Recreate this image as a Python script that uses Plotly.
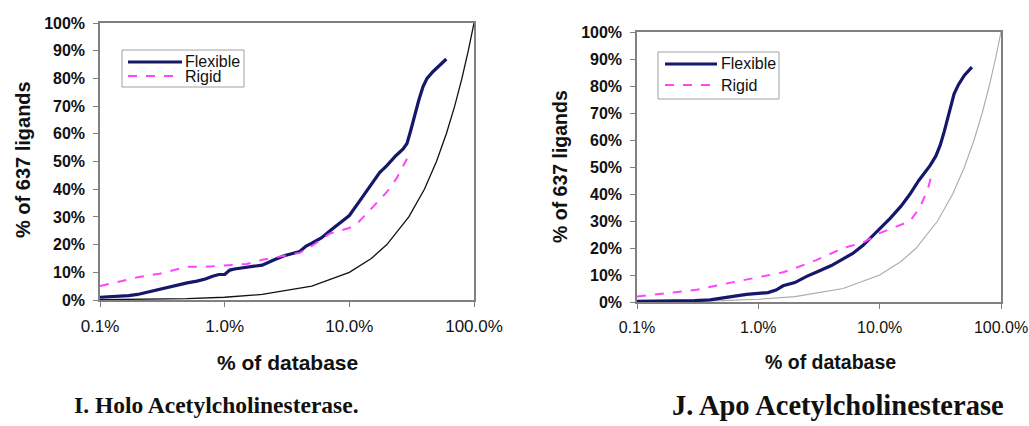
import plotly.graph_objects as go

# ---- Holo Acetylcholinesterase (panel I) ----
holo_flex_x = [0.1, 0.13, 0.17, 0.2, 0.25, 0.3, 0.4, 0.5, 0.6, 0.7, 0.8, 0.9, 1.0, 1.1, 1.2, 1.5, 2.0, 2.5, 3.0,
               4.0, 4.5, 5.0, 6.0, 7.0, 8.0, 10, 12, 15, 17.5, 20, 23.5, 27, 29, 31, 33, 36, 39, 42, 47, 52, 57, 60]
holo_flex_y = [1.0, 1.2, 1.6, 2.0, 3.0, 4.0, 5.2, 6.2, 6.8, 7.6, 8.6, 9.2, 9.2, 10.8, 11.2, 11.8, 12.6, 14.5, 16.0,
               17.5, 19.5, 20.5, 22.5, 25.0, 27.0, 30.5, 35.5, 41.5, 46.0, 48.5, 52.0, 54.5, 56.5, 61.0, 66.0, 72.0,
               77.0, 80.0, 82.5, 84.5, 86.0, 87.0]
holo_rigid_x = [0.1, 0.15, 0.2, 0.3, 0.4, 0.5, 0.7, 1.0, 1.5, 2.0, 3.0, 4.0, 5.0, 7.0, 10, 11.5, 13, 15, 17.5, 20, 24, 29]
holo_rigid_y = [5.0, 7.0, 8.2, 9.5, 11.0, 12.0, 12.0, 12.5, 13.0, 14.5, 16.0, 17.0, 19.5, 24.0, 26.0, 27.5, 30.0,
                33.0, 36.0, 39.0, 44.0, 51.0]

# ---- Apo Acetylcholinesterase (panel J) ----
apo_flex_x = [0.1, 0.2, 0.3, 0.4, 0.5, 0.6, 0.8, 1.0, 1.2, 1.4, 1.6, 2.0, 2.5, 3.0, 4.0, 5.0, 6.0, 7.3, 8.5, 10,
              12.2, 15, 17.8, 21, 26, 29, 31.5, 34, 38, 41, 44.6, 50, 57.6]
apo_flex_y = [0.2, 0.3, 0.5, 0.8, 1.3, 2.0, 2.8, 3.3, 3.5, 4.4, 6.0, 7.2, 9.5, 11.0, 13.5, 16.0, 18.0, 21.0, 24.0,
              27.0, 31.0, 35.5, 40.0, 45.0, 50.5, 54.0, 58.0, 63.0, 72.0, 77.0, 80.5, 84.0, 87.0]
apo_rigid_x = [0.1, 0.2, 0.31, 0.5, 0.7, 1.0, 1.3, 1.6, 2.0, 3.0, 4.0, 5.0, 7.3, 10, 13, 17.8, 21.5, 25, 27.5]
apo_rigid_y = [2.0, 3.5, 4.5, 6.5, 7.8, 9.0, 10.0, 11.0, 12.5, 15.5, 18.0, 20.0, 22.0, 25.5, 27.5, 30.0, 35.0,
               42.0, 49.0]

# random-selection reference (y = x)
ref_x = [0.1, 0.2, 0.5, 1, 2, 5, 10, 15, 20, 30, 40, 50, 60, 70, 80, 90, 100]
ref_y = [0.1, 0.2, 0.5, 1, 2, 5, 10, 15, 20, 30, 40, 50, 60, 70, 80, 90, 100]

series_names = ["Flexible", "Rigid"]
x_tickvals = [0.1, 1, 10, 100]
x_ticktext = ["0.1%", "1.0%", "10.0%", "100.0%"]
y_tickvals = [0, 10, 20, 30, 40, 50, 60, 70, 80, 90, 100]
y_ticktext = ["0%", "10%", "20%", "30%", "40%", "50%", "60%", "70%", "80%", "90%", "100%"]

FLEX = "#14176a"
RIGID = "#ff44ff"
FONT = "Liberation Sans, Arial, sans-serif"
SERIF = "Liberation Serif, Times New Roman, serif"
INK = "#111111"

W, H = 1029, 426


def px_x(p):
    return p / W


def px_y(p):
    return 1 - p / H


fig = go.Figure()

fig.add_trace(go.Scatter(x=ref_x, y=ref_y, mode="lines", line=dict(color="#111111", width=1.3),
                         showlegend=False, xaxis="x", yaxis="y", hoverinfo="skip"))
fig.add_trace(go.Scatter(x=holo_flex_x, y=holo_flex_y, mode="lines", name=series_names[0],
                         line=dict(color=FLEX, width=3.2), xaxis="x", yaxis="y", showlegend=False))
fig.add_trace(go.Scatter(x=holo_rigid_x, y=holo_rigid_y, mode="lines", name=series_names[1],
                         line=dict(color=RIGID, width=2, dash="dash"), xaxis="x", yaxis="y", showlegend=False))

fig.add_trace(go.Scatter(x=ref_x, y=ref_y, mode="lines", line=dict(color="#aaaaaa", width=1.1),
                         showlegend=False, xaxis="x2", yaxis="y2", hoverinfo="skip"))
fig.add_trace(go.Scatter(x=apo_flex_x, y=apo_flex_y, mode="lines", name=series_names[0],
                         line=dict(color=FLEX, width=3.2), xaxis="x2", yaxis="y2", showlegend=False))
fig.add_trace(go.Scatter(x=apo_rigid_x, y=apo_rigid_y, mode="lines", name=series_names[1],
                         line=dict(color=RIGID, width=2, dash="dash"), xaxis="x2", yaxis="y2", showlegend=False))


def xaxis_style(size, domain, anchor):
    return dict(type="log", range=[-1, 2], tickvals=x_tickvals, ticktext=x_ticktext, domain=domain,
                anchor=anchor, automargin=False,
                showgrid=False, zeroline=False, showline=True, linecolor="#808080", linewidth=1.5,
                mirror=True, ticks="outside", ticklen=5, tickcolor="#808080", ticklabelstandoff=5,
                tickfont=dict(family=FONT, size=size, color=INK))


def yaxis_style(domain, anchor):
    return dict(range=[0, 100], tickvals=y_tickvals, ticktext=y_ticktext, domain=domain, anchor=anchor,
                automargin=False,
                showgrid=False, zeroline=False, showline=True, linecolor="#808080", linewidth=1.5,
                mirror=True, ticks="outside", ticklen=5, tickcolor="#808080", ticklabelstandoff=5,
                tickfont=dict(family=FONT, size=16, color=INK, weight="bold"))


fig.update_layout(
    width=W, height=H,
    margin=dict(l=0, r=0, t=0, b=0),
    paper_bgcolor="white", plot_bgcolor="white",
    showlegend=False,
    xaxis=xaxis_style(17, [px_x(100), px_x(474)], "y"),
    yaxis=yaxis_style([px_y(300), px_y(23)], "x"),
    xaxis2=xaxis_style(16, [px_x(637), px_x(1001)], "y2"),
    yaxis2=yaxis_style([px_y(302), px_y(32)], "x2"),
)

shapes = []
ann = []

# Legend boxes (drawn manually to match the compact Excel-style legend)
legends = [
    dict(box=(122, 50, 244, 87), line_x=(128, 182), y1=62, y2=76, tx=183),
    dict(box=(658, 52, 779, 99), line_x=(665, 717), y1=64, y2=85, tx=719),
]
for lg in legends:
    x0, y0, x1, y1 = lg["box"]
    shapes.append(dict(type="rect", xref="paper", yref="paper", x0=px_x(x0), x1=px_x(x1), y0=px_y(y1), y1=px_y(y0),
                       line=dict(color="#a0a0a0", width=1), fillcolor="white", layer="above"))
    lx0, lx1 = lg["line_x"]
    shapes.append(dict(type="line", xref="paper", yref="paper", x0=px_x(lx0), x1=px_x(lx1),
                       y0=px_y(lg["y1"]), y1=px_y(lg["y1"]), line=dict(color=FLEX, width=3.2), layer="above"))
    shapes.append(dict(type="line", xref="paper", yref="paper", x0=px_x(lx0), x1=px_x(lx1),
                       y0=px_y(lg["y2"]), y1=px_y(lg["y2"]), line=dict(color=RIGID, width=2, dash="dash"),
                       layer="above"))
    ann.append(dict(text=series_names[0], x=px_x(lg["tx"]), y=px_y(lg["y1"]), xanchor="left",
                    font=dict(family=FONT, size=16, color=INK)))
    ann.append(dict(text=series_names[1], x=px_x(lg["tx"]), y=px_y(lg["y2"]), xanchor="left",
                    font=dict(family=FONT, size=16, color=INK)))

ann += [
    dict(text="<b>% of 637 ligands</b>", x=px_x(23), y=px_y(160), textangle=-90,
         font=dict(family=FONT, size=20, color=INK)),
    dict(text="<b>% of 637 ligands</b>", x=px_x(560), y=px_y(167), textangle=-90,
         font=dict(family=FONT, size=19.5, color=INK)),
    dict(text="<b>% of database</b>", x=px_x(287), y=px_y(362),
         font=dict(family=FONT, size=21, color=INK)),
    dict(text="<b>% of database</b>", x=px_x(830), y=px_y(362),
         font=dict(family=FONT, size=19.5, color=INK)),
    dict(text="<b>I. Holo Acetylcholinesterase.</b>", x=px_x(216), y=px_y(405),
         font=dict(family=SERIF, size=23.5, color=INK)),
    dict(text="<b>J. Apo Acetylcholinesterase</b>", x=px_x(838), y=px_y(405),
         font=dict(family=SERIF, size=28.5, color=INK)),
]
for a in ann:
    a.update(xref="paper", yref="paper", showarrow=False, yanchor="middle")
    a.setdefault("xanchor", "center")

fig.update_layout(annotations=ann, shapes=shapes)

fig.write_html("out.html")
